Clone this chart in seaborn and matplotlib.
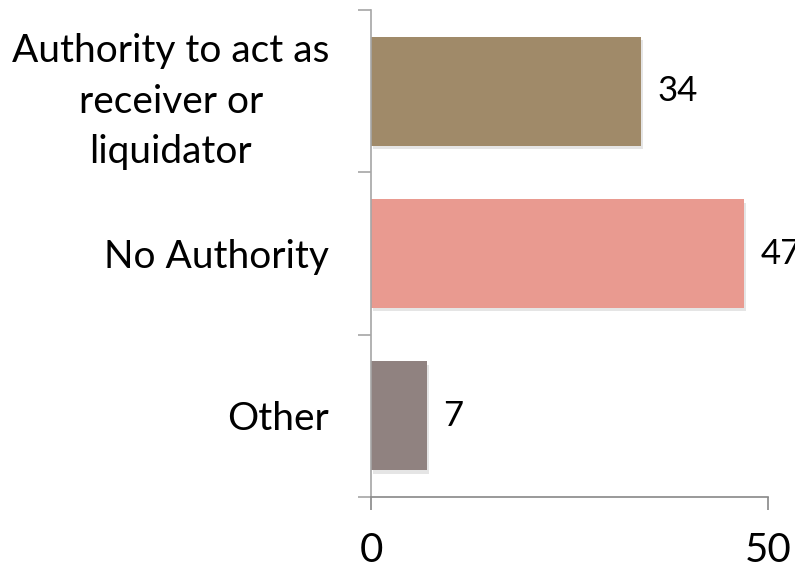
import matplotlib
matplotlib.use("Agg")
import matplotlib.pyplot as plt
import matplotlib.patheffects as pe
import seaborn as sns
import pandas as pd

categories = ["Authority to act as\nreceiver or\nliquidator", "No Authority", "Other"]
values = [34, 47, 7]
colors = ["#A08A69", "#E99A90", "#908280"]
x_ticks = [0, 50]

sns.set_theme(style="white")
plt.rcParams["font.family"] = ["Lato", "DejaVu Sans"]

df = pd.DataFrame({"category": categories, "value": values})

fig = plt.figure(figsize=(7.95, 5.69), dpi=100)
ax = fig.add_axes([0.4667, 0.1265, 0.4994, 0.8559])

sns.barplot(data=df, x="value", y="category", hue="category", palette=colors,
            orient="h", width=0.67, legend=False, ax=ax, saturation=1)

shadow = [pe.SimplePatchShadow(offset=(1.5, -2.5), shadow_rgbFace="#000000", alpha=0.10),
          pe.Normal()]
for patch in ax.patches:
    patch.set_edgecolor("none")
    patch.set_path_effects(shadow)

for i, v in enumerate(values):
    ax.text(v + 2.1, i, str(v), va="center", ha="left", fontsize=25, color="#000000",
            clip_on=False)

ax.set_xlim(0, 50)
ax.set_ylim(2.5, -0.5)
ax.set_xticks(x_ticks)
ax.set_xticklabels([str(t) for t in x_ticks])
ax.set_yticks([-0.5, 0.5, 1.5, 2.5], minor=True)
ax.set_xlabel("")
ax.set_ylabel("")

for side in ["top", "right"]:
    ax.spines[side].set_visible(False)
ax.spines["left"].set_color("#A6A6A6")
ax.spines["bottom"].set_color("#888888")
ax.spines["left"].set_linewidth(1.2)
ax.spines["bottom"].set_linewidth(1.2)

ax.tick_params(axis="y", which="major", length=0, pad=30, labelsize=28, labelcolor="#000000")
ax.tick_params(axis="y", which="minor", left=True, length=9.5, width=1.2, color="#A6A6A6")
ax.tick_params(axis="x", which="major", bottom=True, length=9.5, width=1.2, color="#888888",
               pad=16, labelsize=29, labelcolor="#000000")
for lbl in ax.get_yticklabels():
    lbl.set_multialignment("center")
    lbl.set_linespacing(1.5)

fig.savefig("out.png", dpi=100)
